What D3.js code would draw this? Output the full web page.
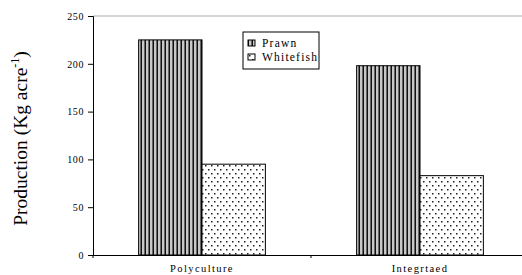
<!DOCTYPE html>
<html>
<head>
<meta charset="utf-8">
<script src="https://cdn.jsdelivr.net/npm/d3@7"></script>
<style>
  body { margin: 0; background: #fff; }
</style>
</head>
<body>
<script>
const categories = ["Polyculture", "Integrtaed"];
const seriesNames = ["Prawn", "Whitefish"];
const prawn = [225, 198];
const whitefish = [95, 83];
const yTicks = [0, 50, 100, 150, 200, 250];

const serif = "'Liberation Serif', 'Times New Roman', serif";
const width = 522, height = 275;
const margin = {top: 16, right: -7, bottom: 20, left: 93};

const svg = d3.select("body").append("svg")
    .attr("width", width)
    .attr("height", height)
    .style("font-family", serif);

const defs = svg.append("defs");

// vertical stripes for prawn
const stripes = defs.append("pattern")
    .attr("id", "stripes")
    .attr("patternUnits", "userSpaceOnUse")
    .attr("width", 4).attr("height", 4);
stripes.append("rect").attr("width", 4).attr("height", 4).attr("fill", "#c8c8c8");
stripes.append("rect").attr("x", 0).attr("width", 1).attr("height", 4).attr("fill", "#111");
stripes.append("rect").attr("x", 3).attr("width", 1).attr("height", 4).attr("fill", "#666");

// staggered dots for whitefish
const dots = defs.append("pattern")
    .attr("id", "dots")
    .attr("patternUnits", "userSpaceOnUse")
    .attr("width", 6).attr("height", 8);
dots.append("rect").attr("width", 6).attr("height", 8).attr("fill", "#fff");
dots.append("rect").attr("x", 1).attr("y", 1).attr("width", 1.5).attr("height", 1.5).attr("fill", "#222");
dots.append("rect").attr("x", 4).attr("y", 5).attr("width", 1.5).attr("height", 1.5).attr("fill", "#222");

const fills = {Prawn: "url(#stripes)", Whitefish: "url(#dots)"};

const x0 = d3.scaleBand()
    .domain(categories)
    .range([margin.left, width - margin.right]);

const x1 = d3.scaleBand()
    .domain(seriesNames)
    .range([0, x0.bandwidth()])
    .paddingInner(0)
    .paddingOuter(0.72);

const y = d3.scaleLinear()
    .domain([0, 250])
    .range([height - margin.bottom, margin.top]);

// top frame line
svg.append("line")
    .attr("x1", margin.left).attr("x2", width)
    .attr("y1", y(250)).attr("y2", y(250))
    .attr("stroke", "#aaa").attr("stroke-width", 1);

const rows = categories.map((c, i) => ({cat: c, values: [
    {key: "Prawn", value: prawn[i]},
    {key: "Whitefish", value: whitefish[i]}
]}));

const groups = svg.selectAll("g.grp")
    .data(rows)
    .join("g")
    .attr("class", "grp")
    .attr("transform", d => `translate(${x0(d.cat)},0)`);

groups.selectAll("rect")
    .data(d => d.values)
    .join("rect")
    .attr("x", d => x1(d.key))
    .attr("y", d => y(d.value))
    .attr("width", x1.bandwidth())
    .attr("height", d => y(0) - y(d.value))
    .attr("fill", d => fills[d.key])
    .attr("stroke", "#000")
    .attr("stroke-width", 1);

// y axis
const yAxis = svg.append("g")
    .attr("transform", `translate(${margin.left},0)`)
    .call(d3.axisLeft(y).tickValues(yTicks).tickSize(5).tickPadding(4))
    .attr("font-family", serif);
yAxis.select(".domain").attr("stroke", "#000");
yAxis.selectAll("text")
    .style("font-size", "10px")
    .style("letter-spacing", "0.6px")
    .attr("fill", "#000");

// x axis
const xAxis = svg.append("g")
    .attr("transform", `translate(0,${y(0)})`)
    .call(d3.axisBottom(x0).tickSize(0).tickPadding(10).tickSizeOuter(0))
    .attr("font-family", serif);
xAxis.select(".domain").attr("stroke", "#000");
xAxis.selectAll("text")
    .style("font-size", "10.5px")
    .style("letter-spacing", "1.4px")
    .attr("fill", "#000");
// small tick marks at the category boundaries
xAxis.selectAll("line.bound")
    .data(categories)
    .join("line")
    .attr("class", "bound")
    .attr("x1", d => x0(d)).attr("x2", d => x0(d))
    .attr("y1", 0).attr("y2", 3)
    .attr("stroke", "#000");

// y title
const title = svg.append("text")
    .attr("transform", `translate(27,${(y(0) + y(250)) / 2 + 3}) rotate(-90)`)
    .attr("text-anchor", "middle")
    .style("font-size", "19.5px")
    .attr("fill", "#000");
title.append("tspan").text("Production (Kg acre");
title.append("tspan").attr("dy", -8).style("font-size", "12px").text("-1");
title.append("tspan").attr("dy", 8).text(")");

// legend
const legend = svg.append("g").attr("transform", "translate(243,32)");
legend.append("rect")
    .attr("width", 76).attr("height", 37)
    .attr("fill", "#fff").attr("stroke", "#000");
const items = legend.selectAll("g.item")
    .data(seriesNames)
    .join("g")
    .attr("class", "item")
    .attr("transform", (d, i) => `translate(5,${8 + i * 14})`);
items.append("rect")
    .attr("width", 7).attr("height", 6)
    .attr("fill", d => fills[d])
    .attr("stroke", "#000");
items.append("text")
    .attr("x", 14).attr("y", 7)
    .style("font-size", "11.5px")
    .style("letter-spacing", "1.2px")
    .attr("fill", "#000")
    .text(d => d);
</script>
</body>
</html>
